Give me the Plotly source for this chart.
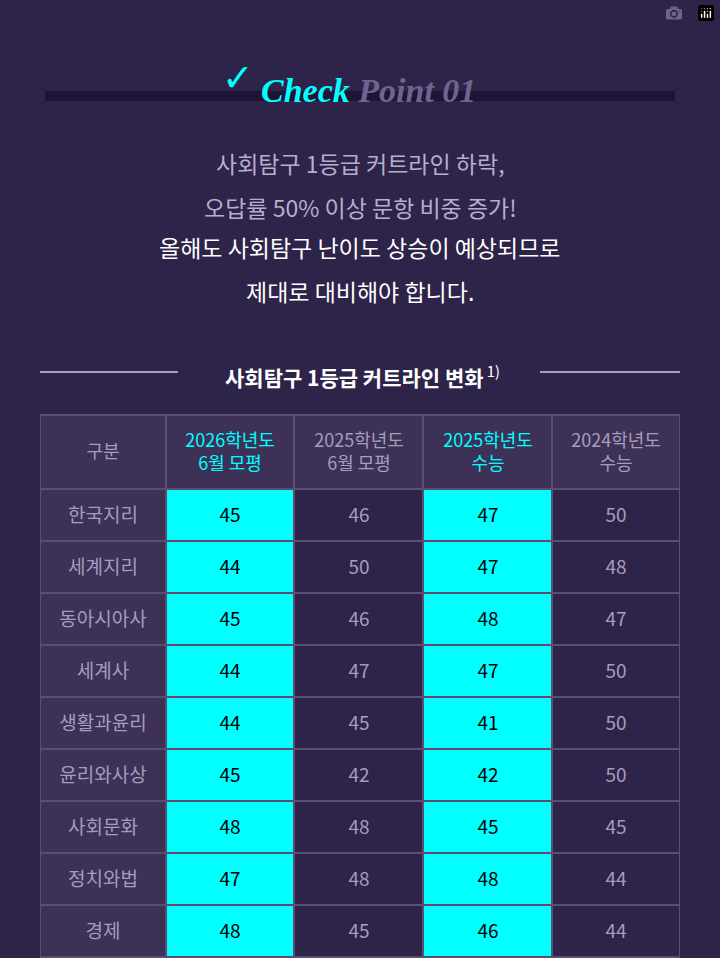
import plotly.graph_objects as go

subjects = ["한국지리", "세계지리", "동아시아사", "세계사", "생활과윤리", "윤리와사상", "사회문화", "정치와법", "경제"]
headers = ["구분", "2026학년도<br>6월 모평", "2025학년도<br>6월 모평", "2025학년도<br>수능", "2024학년도<br>수능"]
jun2026 = [45, 44, 45, 44, 44, 45, 48, 47, 48]
jun2025 = [46, 50, 46, 47, 45, 42, 48, 48, 45]
csat2025 = [47, 47, 48, 47, 41, 42, 45, 48, 46]
csat2024 = [50, 48, 47, 50, 50, 50, 45, 44, 44]

BG = "#2e2349"
HEAD = "#3d3157"
CYAN = "#00ffff"
GRAY = "#a69cbb"
LINE = "#5a4f72"
F = "Noto Sans CJK KR"
W, H = 720, 958

col_edges = [40, 166, 294, 423, 552, 680]
head_edges = [415, 489]
row_edges = [489 + 52 * i for i in range(len(subjects) + 1)]
columns = [subjects, jun2026, jun2025, csat2025, csat2024]
body_fill = [HEAD, CYAN, BG, CYAN, BG]
body_font = [GRAY, "black", GRAY, "black", GRAY]
head_font = [GRAY, CYAN, GRAY, CYAN, GRAY]

fig = go.Figure()
for i, col in enumerate(columns):
    xe = col_edges[i:i + 2]
    fig.add_trace(go.Heatmap(x=xe, y=head_edges, z=[[0]], text=[[headers[i]]], texttemplate="%{text}",
                             colorscale=[[0, HEAD], [1, HEAD]], showscale=False, xgap=2, ygap=2,
                             hoverinfo="skip", textfont=dict(family=F, size=18, color=head_font[i])))
    fig.add_trace(go.Heatmap(x=xe, y=row_edges, z=[[0] for _ in col], text=[[str(v)] for v in col],
                             texttemplate="%{text}", colorscale=[[0, body_fill[i]], [1, body_fill[i]]],
                             showscale=False, xgap=2, ygap=2, hoverinfo="skip",
                             textfont=dict(family=F, size=19, color=body_font[i])))

fig.update_xaxes(range=[40, 680], domain=[40 / W, 680 / W], visible=False, fixedrange=True)
fig.update_yaxes(range=[958, 414], domain=[0, 1 - 414 / H], visible=False, fixedrange=True)

def ann(text, x, y, size, color, family=F, xanchor="center"):
    fig.add_annotation(text=text, x=x / W, y=1 - y / H, xref="paper", yref="paper", showarrow=False,
                       font=dict(family=family, size=size, color=color), xanchor=xanchor, yanchor="middle")

fig.add_shape(type="line", x0=45 / W, x1=675 / W, y0=1 - 96 / H, y1=1 - 96 / H, xref="paper", yref="paper",
              line=dict(color="#1d1533", width=10))
ann("<b>✓</b>", 238, 78, 38, CYAN, "DejaVu Sans")
ann("<b><i><span style='color:#00ffff'>Check</span> Point 01</i></b>", 368, 90, 34, "#6f6390", "Liberation Serif")

ann("사회탐구 1등급 커트라인 하락,", 360, 163, 23, "#b7aecb")
ann("오답률 50% 이상 문항 비중 증가!", 360, 207, 23, "#b7aecb")
ann("올해도 사회탐구 난이도 상승이 예상되므로", 360, 247, 23, "white")
ann("제대로 대비해야 합니다.", 360, 291, 23, "white")

ann("<b>사회탐구 1등급 커트라인 변화</b><sup style='font-size:11px'> 1)</sup>", 362, 376, 21, "white")
for x0, x1 in [(40, 178), (540, 680)]:
    fig.add_shape(type="line", x0=x0 / W, x1=x1 / W, y0=1 - 372 / H, y1=1 - 372 / H, xref="paper", yref="paper",
                  line=dict(color=GRAY, width=2))

fig.update_layout(width=W, height=H, margin=dict(l=0, r=0, t=0, b=0),
                  paper_bgcolor=BG, plot_bgcolor=LINE)
fig.write_html("out.html")

with open("out.html", encoding="utf-8") as fh:
    html = fh.read()
html = html.replace("<head>", "<head><style>body{margin:0;background:#2e2349;}</style>", 1)
with open("out.html", "w", encoding="utf-8") as fh:
    fh.write(html)
